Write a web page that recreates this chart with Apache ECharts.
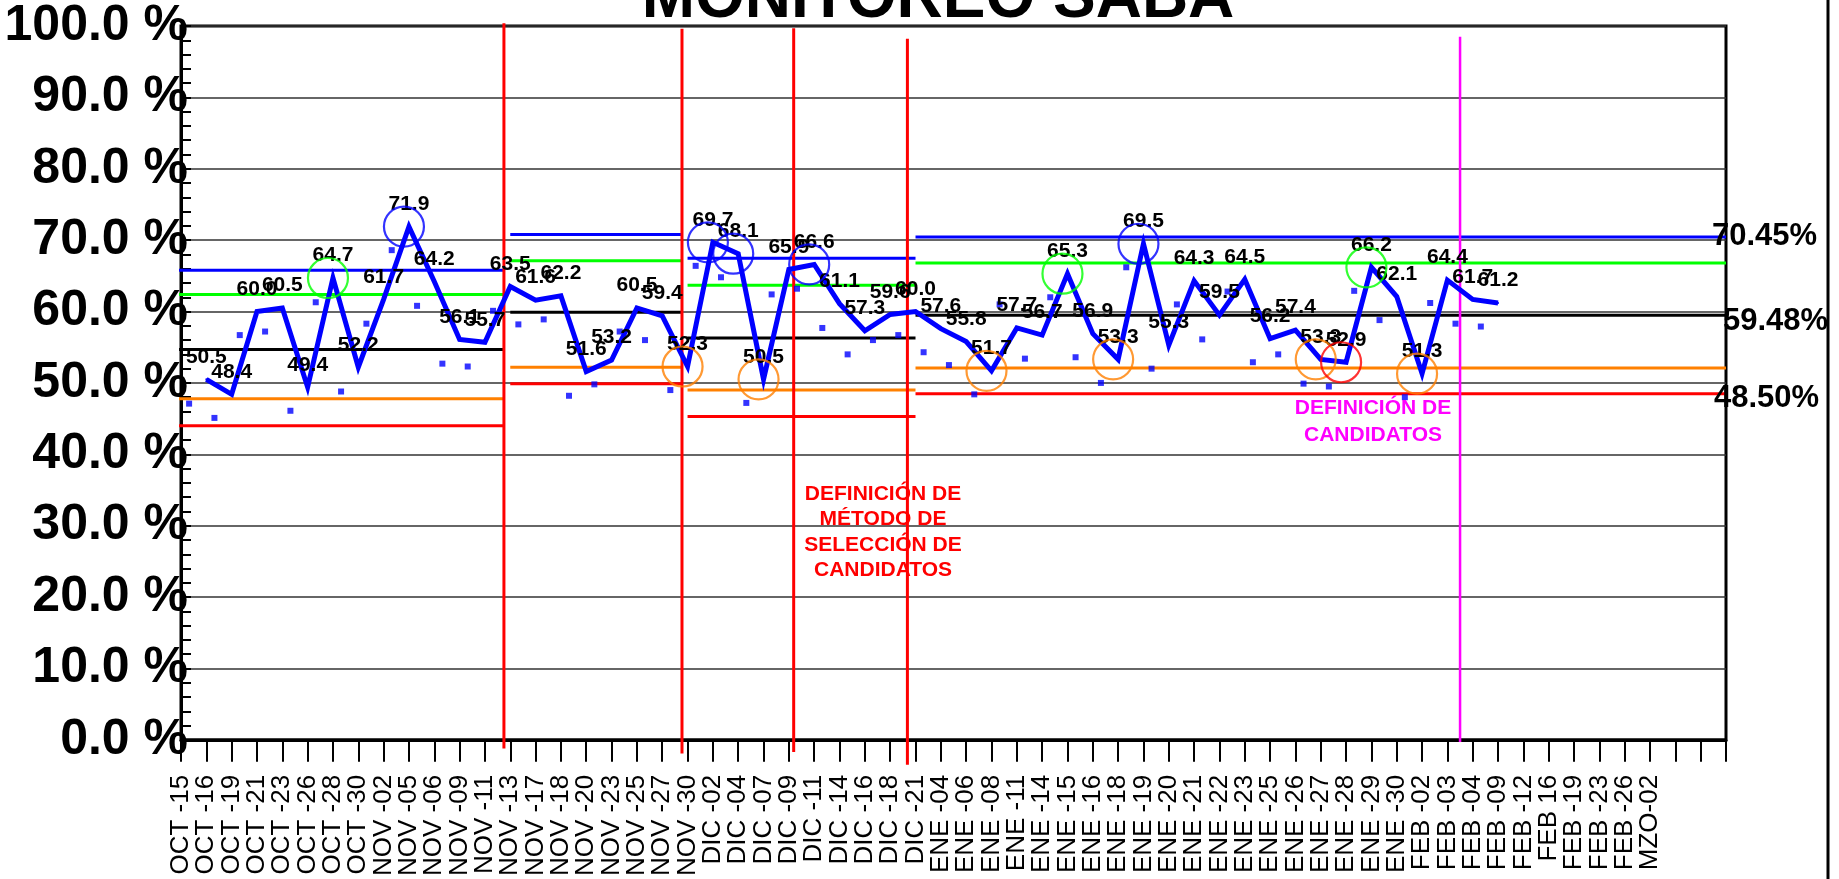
<!DOCTYPE html>
<html><head><meta charset="utf-8">
<script src="https://cdn.jsdelivr.net/npm/echarts@6/dist/echarts.min.js"></script>
<style>html,body{margin:0;padding:0;background:#fff}#c{width:1839px;height:879px}</style>
</head><body><div id="c"></div>
<script>
const FONT = "'Liberation Sans', Arial, sans-serif";

const categories = ['OCT -15','OCT -16','OCT -19','OCT -21','OCT -23','OCT -26','OCT -28','OCT -30',
  'NOV -02','NOV -05','NOV -06','NOV -09','NOV -11','NOV -13','NOV -17','NOV -18','NOV -20','NOV -23','NOV -25','NOV -27','NOV -30',
  'DIC -02','DIC -04','DIC -07','DIC -09','DIC -11','DIC -14','DIC -16','DIC -18','DIC -21',
  'ENE -04','ENE -06','ENE -08','ENE -11','ENE -14','ENE -15','ENE -16','ENE -18','ENE -19','ENE -20','ENE -21','ENE -22','ENE -23','ENE -25','ENE -26','ENE -27','ENE -28','ENE -29','ENE -30',
  'FEB -02','FEB -03','FEB -04','FEB -09','FEB -12','FEB 16','FEB -19','FEB -23','FEB -26','MZO-02','','',''];

// main monitoring series (first reading sits on category index 1)
const monitorStart = 1;
const monitorValues = [50.5,48.4,60.0,60.5,49.4,64.7,52.2,61.7,71.9,64.2,
  56.1,55.7,63.5,61.6,62.2,51.6,53.2,60.5,59.4,52.3,
  69.7,68.1,50.5,65.9,66.6,61.1,57.3,59.6,60.0,57.6,
  55.8,51.7,57.7,56.7,65.3,56.9,53.3,69.5,55.3,64.3,
  59.5,64.5,56.2,57.4,53.3,52.9,66.2,62.1,51.3,64.4,
  61.7,61.2];

// secondary dotted readings (drawn slightly left of each tick)
const auxShift = 0.32;
const auxValues = [47.1,45.1,56.7,57.2,46.1,61.3,48.8,58.3,68.6,60.8,
  52.7,52.3,60.1,58.2,58.9,48.2,49.8,57.2,56.0,49.0,
  66.4,64.8,47.2,62.4,63.2,57.7,54.0,56.0,56.7,54.3,
  52.5,48.4,61.0,53.4,62.0,53.6,50.0,66.2,52.0,61.0,
  56.1,62.8,52.9,54.0,49.9,49.5,62.9,58.8,48.0,61.2,
  58.3,57.9];

// control-limit periods (in category units) and their levels
const segStart = [-0.4, 13.0, 20.0, 29.0];
const segEnd   = [12.72, 19.8, 29.0, 61.0];
const limitUpper3 = [65.8, 70.8, 67.45, 70.45];
const limitUpper2 = [62.4, 67.1, 63.7, 66.8];
const limitMean   = [54.7, 59.9, 56.3, 59.48];
const limitLower2 = [47.8, 52.2, 49.0, 52.1];
const limitLower3 = [44.0, 49.9, 45.3, 48.50];

// vertical period dividers
const dividerX      = [12.75, 19.78, 24.19, 28.68];
const dividerTop    = [100.4, 99.6, 99.7, 98.2];
const dividerBottom = [-1.2, -1.9, -1.7, -3.5];
const candidateX = [50.5], candidateTop = [98.5], candidateBottom = [-0.3];

// circled readings (category index)
const blueCircles   = [9, 21, 22, 25, 38];
const greenCircles  = [6, 35, 47];
const orangeCircles = [20, 23, 32, 37, 45, 49];
const redCircles    = [46];

const yMin = 0, yMax = 100, yStep = 10;

const series = [];
function limitSeries(levels, color, withEnd) {
  levels.forEach((lv, s) => {
    const isLast = s === levels.length - 1;
    series.push({
      type: 'line', xAxisIndex: 1, z: 2, clip: false, silent: true,
      symbol: 'none', data: [[segStart[s], lv], [segEnd[s], lv]],
      lineStyle: { color: color, width: 3 },
      endLabel: (withEnd && isLast) ? {
        show: true, formatter: p => p.value[1].toFixed(2) + '%',
        color: '#000', fontFamily: FONT, fontWeight: 'bold', fontSize: 31,
        offset: withEnd.offset
      } : { show: false }
    });
  });
}
limitSeries(limitLower3, '#FF0000', { offset: [-20, 5] });
limitSeries(limitLower2, '#FF8000', null);
limitSeries(limitMean, '#000000', { offset: [-11, 6] });
limitSeries(limitUpper2, '#00FF00', null);
limitSeries(limitUpper3, '#0000FF', { offset: [-22, 0] });

dividerX.forEach((x, i) => {
  series.push({ type: 'line', xAxisIndex: 1, z: 2, clip: false, silent: true, symbol: 'none',
    data: [[x, dividerTop[i]], [x, dividerBottom[i]]], lineStyle: { color: '#FF0000', width: 3 } });
});
candidateX.forEach((x, i) => {
  series.push({ type: 'line', xAxisIndex: 1, z: 2, clip: false, silent: true, symbol: 'none',
    data: [[x, candidateTop[i]], [x, candidateBottom[i]]], lineStyle: { color: '#FF00FF', width: 2.5 } });
});

series.push({
  type: 'scatter', xAxisIndex: 1, z: 3, symbol: 'rect', symbolSize: 6,
  itemStyle: { color: '#0000FF' },
  data: auxValues.map((v, k) => [k + auxShift, v])
});

series.push({
  type: 'line', xAxisIndex: 1, z: 4, clip: false,
  symbol: 'circle', symbolSize: 2, showSymbol: true,
  itemStyle: { color: '#0000FF' },
  lineStyle: { color: '#0000FF', width: 5, join: 'miter', miterLimit: 10 },
  data: monitorValues.map((v, k) => [k + monitorStart, v]),
  label: { show: true, position: 'top', distance: 11,
    formatter: p => p.value[1].toFixed(1),
    color: '#000', fontFamily: FONT, fontWeight: 'bold', fontSize: 21 }
});

function circleSeries(list, color) {
  series.push({
    type: 'scatter', xAxisIndex: 1, z: 5, silent: true,
    symbol: 'circle', symbolSize: 40, symbolOffset: [-5, 0],
    itemStyle: { color: 'rgba(0,0,0,0)', borderColor: color, borderWidth: 2.2 },
    data: list.map(idx => [idx, monitorValues[idx - monitorStart]])
  });
}
circleSeries(blueCircles, '#0000FF');
circleSeries(greenCircles, '#00FF00');
circleSeries(orangeCircles, '#FF8000');
circleSeries(redCircles, '#FF0000');

const chart = echarts.init(document.getElementById('c'), null, { renderer: 'canvas' });
chart.setOption({
  animation: false,
  backgroundColor: '#fff',
  grid: { left: 181, right: 113, top: 26, bottom: 137, show: true, borderColor: '#000', borderWidth: 3 },
  xAxis: [{
    type: 'category', data: categories, boundaryGap: false,
    axisLine: { lineStyle: { color: '#000', width: 3 } },
    axisTick: { show: true, interval: 0, length: 22, lineStyle: { color: '#000', width: 2 } },
    axisLabel: { interval: 0, rotate: 90, margin: 35, color: '#000', fontFamily: FONT, fontSize: 26 },
    splitLine: { show: false }
  }, {
    type: 'value', min: 0, max: categories.length - 1, show: false
  }],
  yAxis: {
    type: 'value', min: yMin, max: yMax, interval: yStep,
    axisLine: { show: true, lineStyle: { color: '#000', width: 3 } },
    axisTick: { show: true, inside: true, length: 10, lineStyle: { color: '#000', width: 2 } },
    minorTick: { show: true, splitNumber: 5, length: 10, lineStyle: { color: '#000', width: 2 } },
    axisLabel: { formatter: v => v.toFixed(1) + ' %', color: '#000', fontFamily: FONT,
      fontWeight: 'bold', fontSize: 50, margin: -7 },
    splitLine: { show: true, lineStyle: { color: '#333', width: 1.5 } }
  },
  series: series,
  graphic: [
    { type: 'text', x: 938, y: -1, z: 10, style: { text: 'MONITOREO SABA',
      fill: '#000', font: "bold 64px " + FONT, textAlign: 'center', textVerticalAlign: 'middle' } },
    { type: 'text', x: 883, y: 481, z: 10, style: { text: 'DEFINICIÓN DE\nMÉTODO DE\nSELECCIÓN DE\nCANDIDATOS',
      fill: '#FF0000', font: "bold 21px " + FONT, textAlign: 'center', lineHeight: 25.6 } },
    { type: 'text', x: 1373, y: 395, z: 10, style: { text: 'DEFINICIÓN DE\nCANDIDATOS',
      fill: '#FF00FF', font: "bold 21px " + FONT, textAlign: 'center', lineHeight: 26.7 } },
    { type: 'line', z: 10, shape: { x1: 1828, y1: 0, x2: 1828, y2: 879 }, style: { stroke: '#000', lineWidth: 3 } }
  ]
});
</script></body></html>
